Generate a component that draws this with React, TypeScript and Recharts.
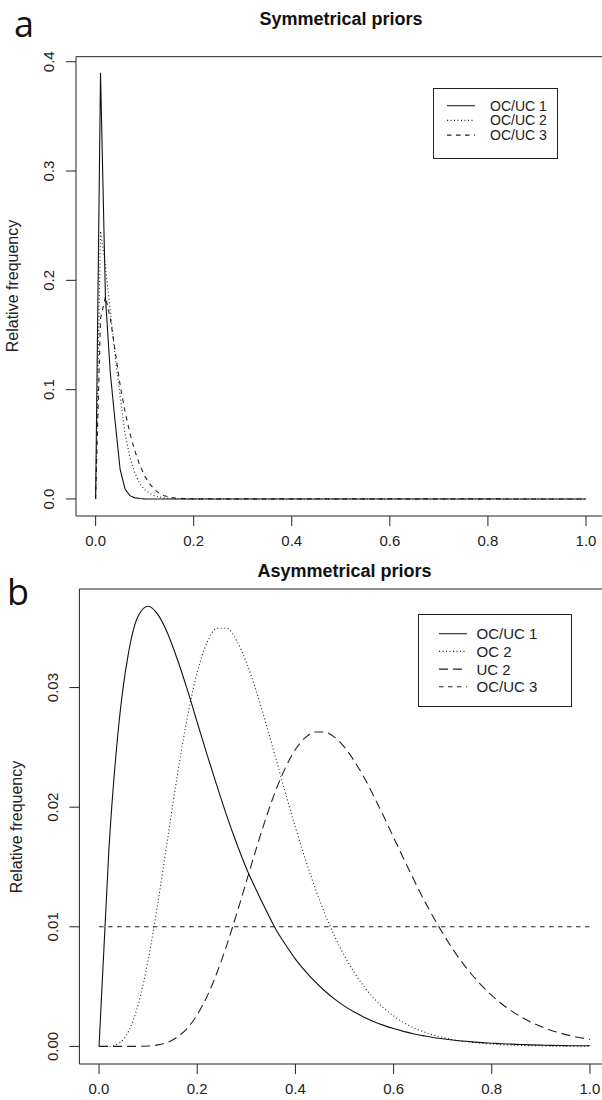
import { LineChart, Line, XAxis, YAxis, ReferenceLine } from 'recharts';

const INK = '#222';
const FONT = '"Liberation Sans", Arial, Helvetica, sans-serif';

const X_TICKS = [0, 0.2, 0.4, 0.6, 0.8, 1];
const SYM_Y_TICKS = [0, 0.1, 0.2, 0.3, 0.4];
const ASYM_Y_TICKS = [0, 0.01, 0.02, 0.03];

// panel a: symmetrical priors (grid of 0.01 near zero, flat to 1.0)
const SYM_X = [0, 0.01, 0.02, 0.03, 0.04, 0.05, 0.06, 0.07, 0.08, 0.09, 0.1,
  0.11, 0.12, 0.13, 0.14, 0.15, 0.16, 0.17, 0.18, 0.19, 0.2, 1];
const SYM_1 = [0, 0.39, 0.185, 0.115, 0.07, 0.027, 0.009, 0.003, 0.001, 0.0004, 0.0001,
  0, 0, 0, 0, 0, 0, 0, 0, 0, 0, 0];
const SYM_2 = [0, 0.245, 0.213, 0.172, 0.13, 0.094, 0.06, 0.038, 0.024, 0.014, 0.0085,
  0.0052, 0.003, 0.0018, 0.001, 0.0006, 0.0003, 0.0002, 0.0001, 0, 0, 0];
const SYM_3 = [0, 0.165, 0.185, 0.165, 0.135, 0.104, 0.08, 0.06, 0.044, 0.031, 0.021,
  0.014, 0.0085, 0.0052, 0.003, 0.0018, 0.001, 0.0006, 0.0003, 0.0002, 0.0001, 0];

// panel b: asymmetrical priors
const ASYM_X = [0, 0.02, 0.04, 0.06, 0.08, 0.1, 0.12, 0.14, 0.16, 0.18, 0.2,
  0.22, 0.24, 0.26, 0.28, 0.3, 0.32, 0.34, 0.36, 0.38, 0.4,
  0.42, 0.44, 0.46, 0.48, 0.5, 0.52, 0.54, 0.56, 0.58, 0.6,
  0.62, 0.64, 0.66, 0.68, 0.7, 0.72, 0.74, 0.76, 0.78, 0.8,
  0.82, 0.84, 0.86, 0.88, 0.9, 0.92, 0.94, 0.96, 0.98, 1];
const OCUC_1 = [0, 0.0164, 0.0268, 0.0329, 0.036, 0.0368, 0.0361, 0.0345, 0.0323, 0.0298, 0.0271,
  0.0244, 0.0218, 0.0193, 0.017, 0.0149, 0.0131, 0.0114, 0.0098, 0.0085, 0.0073,
  0.0063, 0.00541, 0.00463, 0.00395, 0.00337, 0.00287, 0.00244, 0.00207, 0.00176, 0.00149,
  0.00126, 0.00106, 0.0009, 0.00075, 0.00064, 0.00054, 0.00045, 0.00038, 0.00032, 0.00027,
  0.00022, 0.00019, 0.00016, 0.00013, 0.00011, 0.00009, 0.00008, 0.00006, 0.00005, 0.00005];
const OC_2 = [0, 0.00001, 0.00025, 0.00125, 0.00353, 0.00722, 0.01204, 0.01744, 0.0228, 0.02753, 0.03127,
  0.03375, 0.03495, 0.03496, 0.03394, 0.03212, 0.02974, 0.027, 0.02409, 0.02115, 0.01832,
  0.01568, 0.01326, 0.0111, 0.0092, 0.00757, 0.00617, 0.005, 0.00402, 0.00321, 0.00255,
  0.00201, 0.00158, 0.00124, 0.00096, 0.00075, 0.00057, 0.00044, 0.00034, 0.00026, 0.0002,
  0.00015, 0.00011, 0.00008, 0.00006, 0.00005, 0.00003, 0.00002, 0.00002, 0.00001, 0.00001];
const UC_2 = [0, 0, 0, 0, 0.00001, 0.00004, 0.00013, 0.00035, 0.00079, 0.00153, 0.00265,
  0.00418, 0.00614, 0.00845, 0.01104, 0.01377, 0.0165, 0.01909, 0.02141, 0.02333, 0.02482,
  0.02581, 0.02629, 0.02628, 0.02584, 0.02502, 0.02385, 0.02248, 0.02089, 0.01922, 0.01747,
  0.01574, 0.01403, 0.0124, 0.01088, 0.00947, 0.00817, 0.007, 0.00597, 0.00506, 0.00426,
  0.00357, 0.00297, 0.00246, 0.00203, 0.00166, 0.00136, 0.00111, 0.0009, 0.00073, 0.00058];
const UNIFORM_X = [0, 1];
const OCUC_3 = [0.01, 0.01];

const DOTTED = '1 2.5';
const DASHED = '4.5 4.5';
const LONGDASH = '9 5';

const symData = SYM_X.map((x, i) => ({ x, a: SYM_1[i], b: SYM_2[i], c: SYM_3[i] }));
const asymData = ASYM_X.map((x, i) => ({ x, a: OCUC_1[i], b: OC_2[i], c: UC_2[i] }));
const uniformData = UNIFORM_X.map((x, i) => ({ x, d: OCUC_3[i] }));

function RotTick(props: any) {
  const { x, y, payload, digits } = props;
  const bx = x - 11.5;
  return (
    <text x={bx} y={y} transform={`rotate(-90 ${bx} ${y})`} textAnchor="middle"
      fontSize={15} fill={INK} fontFamily={FONT}>
      {Number(payload.value).toFixed(digits)}
    </text>
  );
}

interface LegendRow { label: string; dash?: string }

function LegendBox({ left, top, width, height, rows, firstY, step, lineX, textX, fontSize }: {
  left: number; top: number; width: number; height: number; rows: LegendRow[];
  firstY: number; step: number; lineX: number; textX: number; fontSize: number;
}) {
  return (
    <svg style={{ position: 'absolute', left, top }} width={width} height={height}>
      <rect x={0.5} y={0.5} width={width - 1} height={height - 1} fill="#fff" stroke={INK} />
      {rows.map((r, i) => {
        const y = firstY + i * step;
        return (
          <g key={r.label}>
            <line x1={lineX} x2={lineX + 28} y1={y} y2={y} stroke={INK} strokeWidth={1.1}
              strokeDasharray={r.dash} />
            <text x={textX} y={y + fontSize * 0.36} fontSize={fontSize} fill={INK} fontFamily={FONT}>{r.label}</text>
          </g>
        );
      })}
    </svg>
  );
}

const axisProps = {
  stroke: INK,
  tickSize: 10,
  tick: { fontSize: 15, fill: INK, fontFamily: FONT },
};

export default function App() {
  return (
    <div style={{ position: 'absolute', left: 0, top: 0, width: 602, height: 1100, overflow: 'hidden', background: '#fff' }}>
      <div style={{ position: 'absolute', left: 0, top: 0 }}>
        <LineChart width={620} height={560} data={symData}
          margin={{ top: 56.7, right: 14.4, bottom: 0, left: 0 }}>
          <XAxis dataKey="x" type="number" domain={[-0.04, 1.04]} ticks={X_TICKS}
            tickFormatter={(v: number) => v.toFixed(1)} height={44} tickMargin={9}
            interval={0} {...axisProps} />
          <YAxis type="number" domain={[-0.0156, 0.4046]} ticks={SYM_Y_TICKS} width={76}
            tickMargin={0} interval={0} stroke={INK} tickSize={10} tick={<RotTick digits={1} />} />
          <ReferenceLine y={0.4046} stroke={INK} />
          <Line dataKey="c" type="linear" stroke={INK} strokeWidth={1.1} strokeDasharray={DASHED} dot={false} isAnimationActive={false} />
          <Line dataKey="b" type="linear" stroke={INK} strokeWidth={1.1} strokeDasharray={DOTTED} dot={false} isAnimationActive={false} />
          <Line dataKey="a" type="linear" stroke="#111" strokeWidth={1.1} dot={false} isAnimationActive={false} />
        </LineChart>
      </div>
      <div style={{ position: 'absolute', left: 0, top: 560 }}>
        <LineChart width={620} height={540} data={asymData}
          margin={{ top: 29, right: 10.4, bottom: 0, left: 0 }}>
          <XAxis dataKey="x" type="number" domain={[-0.04, 1.04]} ticks={X_TICKS}
            tickFormatter={(v: number) => v.toFixed(1)} height={36} tickMargin={9}
            interval={0} {...axisProps} />
          <YAxis type="number" domain={[-0.00147, 0.03824]} ticks={ASYM_Y_TICKS} width={79.4}
            tickMargin={0} interval={0} stroke={INK} tickSize={10} tick={<RotTick digits={2} />} />
          <ReferenceLine y={0.03824} stroke={INK} />
          <Line data={uniformData} dataKey="d" type="linear" stroke={INK} strokeWidth={1.1} strokeDasharray={DASHED} dot={false} isAnimationActive={false} />
          <Line dataKey="c" type="monotone" stroke={INK} strokeWidth={1.1} strokeDasharray={LONGDASH} dot={false} isAnimationActive={false} />
          <Line dataKey="b" type="monotone" stroke={INK} strokeWidth={1.1} strokeDasharray={DOTTED} dot={false} isAnimationActive={false} />
          <Line dataKey="a" type="monotone" stroke="#111" strokeWidth={1.1} dot={false} isAnimationActive={false} />
        </LineChart>
      </div>

      <LegendBox left={433} top={88} width={125} height={71} firstY={17.7} step={14.7}
        lineX={14} textX={57} fontSize={14}
        rows={[{ label: 'OC/UC 1' }, { label: 'OC/UC 2', dash: DOTTED }, { label: 'OC/UC 3', dash: DASHED }]} />
      <LegendBox left={418} top={614} width={154} height={93} firstY={19.7} step={17.7}
        lineX={21} textX={58.5} fontSize={15}
        rows={[{ label: 'OC/UC 1' }, { label: 'OC 2', dash: DOTTED }, { label: 'UC 2', dash: LONGDASH }, { label: 'OC/UC 3', dash: DASHED }]} />

      <svg style={{ position: 'absolute', left: 0, top: 0, pointerEvents: 'none' }} width={602} height={1100}>
        <text x={14} y={37} fontSize={36} fontFamily='"Open Sans", sans-serif' fill="#111">a</text>
        <text x={341} y={25} textAnchor="middle" fontSize={18} fontWeight="bold" fontFamily={FONT} fill="#111">Symmetrical priors</text>
        <text x={18} y={286} transform="rotate(-90 18 286)" textAnchor="middle" fontSize={16} fontFamily={FONT} fill={INK}>Relative frequency</text>
        <text x={7} y={605} fontSize={36} fontFamily='"Open Sans", sans-serif' fill="#111">b</text>
        <text x={344.5} y={577} textAnchor="middle" fontSize={18} fontWeight="bold" fontFamily={FONT} fill="#111">Asymmetrical priors</text>
        <text x={21.5} y={827} transform="rotate(-90 21.5 827)" textAnchor="middle" fontSize={16} fontFamily={FONT} fill={INK}>Relative frequency</text>
      </svg>
    </div>
  );
}
